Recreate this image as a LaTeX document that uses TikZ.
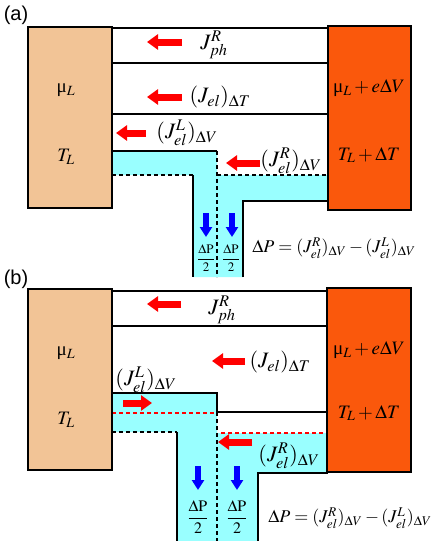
\documentclass[tikz,border=0pt]{standalone}
\usepackage{mathptmx}
\usepackage{fontspec}
\setmainfont{Liberation Serif}
\newfontfamily\panelfont{Liberation Sans}
\usetikzlibrary{arrows.meta}
\definecolor{leftres}{RGB}{242,196,150}
\definecolor{rightres}{RGB}{250,88,12}
\definecolor{channel}{RGB}{153,255,255}
\begin{document}
\begin{tikzpicture}[x=1pt,y=-1pt,
  wall/.style={line width=2pt},
  dashwall/.style={line width=2pt, dash pattern=on 4pt off 3pt},
  reddash/.style={draw=red, line width=2pt, dash pattern=on 4pt off 3pt},
  redarrow/.style={draw=red, line width=7pt, -{Triangle[length=11pt,width=15pt]}},
  bluearrow/.style={draw=blue, line width=6pt, -{Triangle[length=10pt,width=12pt]}},
  bigtxt/.style={font=\fontsize{19}{22}\selectfont, inner sep=0pt},
  fluxtxt/.style={font=\fontsize{22}{26}\selectfont, inner sep=0pt},
  eqtxt/.style={font=\fontsize{18}{21}\selectfont, inner sep=0pt},
  panel/.style={font=\panelfont\fontsize{20}{24}\selectfont, inner sep=0pt}]
\useasboundingbox (0,0) rectangle (436,541);
\fill[white] (0,0) rectangle (436,541);
\fill[channel] (112,151) -- (217,151) -- (217,175) -- (328,175) -- (328,201) -- (243,201) -- (243,277) -- (193,277) -- (193,175) -- (112,175) -- cycle;
\draw[wall] (112,28) -- (328,28);
\draw[wall] (112,63) -- (328,63);
\draw[wall] (112,114) -- (328,114);
\draw[wall] (112,151) -- (217,151);
\draw[dashwall] (217,151) -- (217,277);
\draw[dashwall] (112,175) -- (193,175);
\draw[wall] (193,175) -- (193,277);
\draw[dashwall] (217,175) -- (328,175);
\draw[wall] (243,277) -- (243,201) -- (328,201);
\draw[wall, fill=leftres] (28,27) rectangle (112,208);
\draw[wall, fill=rightres] (328,26) rectangle (411,210);
\node[panel] (pa) at (16,15) {(a)};
\node[bigtxt] (muLa) at (66,90) {μ$_L$};
\node[bigtxt] (TLa) at (66,157) {$T_L$};
\node[bigtxt] (muRa) at (369,88) {μ$_L+e\Delta V$};
\node[bigtxt] (TRa) at (369,155) {$T_L+\Delta T$};
\draw[redarrow] (182,42) -- (147,42);
\draw[redarrow] (182,97) -- (147,97);
\draw[redarrow] (146,133) -- (116,133);
\draw[redarrow] (260,163) -- (226,163);
\draw[bluearrow] (206,213) -- (206,237);
\draw[bluearrow] (232,213) -- (232,237);
\node[fluxtxt] (jpha) at (214,45) {$J_{ph}^{R}$};
\node[fluxtxt] (jdta) at (220,97) {$(J_{el})_{\Delta T}$};
\node[fluxtxt] (jla) at (187,133) {$(J_{el}^{L})_{\Delta V}$};
\node[fluxtxt] (jra) at (291,161) {$(J_{el}^{R})_{\Delta V}$};
\node[inner sep=0pt, font=\fontsize{13}{15}\selectfont] (dpla) at (206,258) {$\displaystyle\frac{\Delta\mathrm{P}}{2}$};
\node[inner sep=0pt, font=\fontsize{13}{15}\selectfont] (dpra) at (231,258) {$\displaystyle\frac{\Delta\mathrm{P}}{2}$};
\node[eqtxt] (eqa) at (334,248) {$\Delta P=(J_{el}^{R})_{\Delta V}-(J_{el}^{L})_{\Delta V}$};
\fill[channel] (112,393) -- (217,393) -- (217,433) -- (328,433) -- (328,473) -- (258,473) -- (258,541) -- (177,541) -- (177,432) -- (112,432) -- cycle;
\draw[wall] (112,291) -- (328,291);
\draw[wall] (112,326) -- (328,326);
\draw[wall] (112,393) -- (217,393) -- (217,412) -- (328,412);
\draw[reddash] (112,413) -- (216,413);
\draw[dashwall] (217,412) -- (217,541);
\draw[dashwall] (112,432) -- (177,432);
\draw[wall] (177,432) -- (177,541);
\draw[reddash] (221,433) -- (328,433);
\draw[wall] (258,541) -- (258,473) -- (328,473);
\draw[wall, fill=leftres] (28,289) rectangle (112,470);
\draw[wall, fill=rightres] (327,288) rectangle (411,472);
\node[panel] (pb) at (16,279) {(b)};
\node[bigtxt] (muLb) at (66,353) {μ$_L$};
\node[bigtxt] (TLb) at (66,420) {$T_L$};
\node[bigtxt] (muRb) at (369,350) {μ$_L+e\Delta V$};
\node[bigtxt] (TRb) at (369,413) {$T_L+\Delta T$};
\draw[redarrow] (181,304) -- (147,304);
\draw[redarrow] (245,361) -- (212,361);
\draw[redarrow] (123,403) -- (152,403);
\draw[redarrow] (252,442) -- (218,442);
\draw[bluearrow] (198,466) -- (198,490);
\draw[bluearrow] (237,466) -- (237,490);
\node[fluxtxt] (jphb) at (222,310) {$J_{ph}^{R}$};
\node[fluxtxt] (jdtb) at (280,362) {$(J_{el})_{\Delta T}$};
\node[fluxtxt] (jlb) at (146,380) {$(J_{el}^{L})_{\Delta V}$};
\node[fluxtxt] (jrb) at (289,456) {$(J_{el}^{R})_{\Delta V}$};
\node[inner sep=0pt, font=\fontsize{16}{18}\selectfont] (dplb) at (198,517) {$\displaystyle\frac{\Delta\mathrm{P}}{2}$};
\node[inner sep=0pt, font=\fontsize{16}{18}\selectfont] (dprb) at (237,517) {$\displaystyle\frac{\Delta\mathrm{P}}{2}$};
\node[eqtxt] (eqb) at (350,518) {$\Delta P=(J_{el}^{R})_{\Delta V}-(J_{el}^{L})_{\Delta V}$};
\end{tikzpicture}
\end{document}
